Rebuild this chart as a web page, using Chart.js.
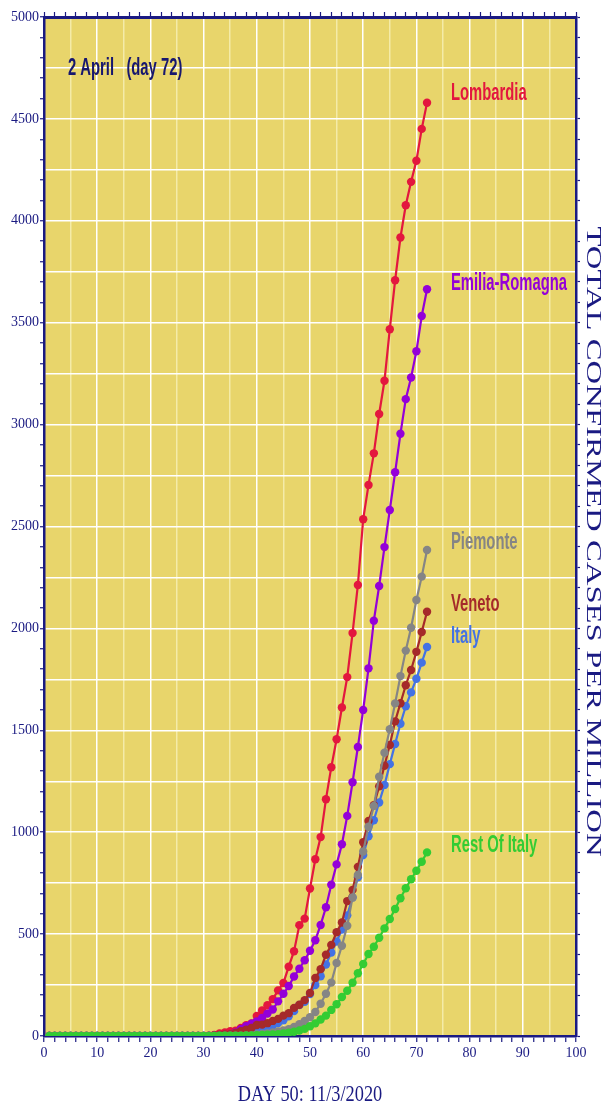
<!DOCTYPE html>
<html>
<head>
<meta charset="utf-8">
<title>Total confirmed cases per million</title>
<script src="https://cdn.jsdelivr.net/npm/chart.js@4.4.1/dist/chart.umd.min.js"></script>
<style>
  html, body { margin: 0; padding: 0; background: #ffffff; }
  #wrap { width: 605px; height: 1108px; position: relative; }
</style>
</head>
<body>
<div id="wrap"><canvas id="chart"></canvas></div>
<script>
const days = [
  1, 2, 3, 4, 5, 6, 7, 8, 9, 10,
  11, 12, 13, 14, 15, 16, 17, 18, 19, 20,
  21, 22, 23, 24, 25, 26, 27, 28, 29, 30,
  31, 32, 33, 34, 35, 36, 37, 38, 39, 40,
  41, 42, 43, 44, 45, 46, 47, 48, 49, 50,
  51, 52, 53, 54, 55, 56, 57, 58, 59, 60,
  61, 62, 63, 64, 65, 66, 67, 68, 69, 70,
  71, 72
];

const lombardia = [
  0, 0, 0, 0, 0, 0, 0, 0, 0, 0,
  0, 0, 0, 0, 0, 0, 0, 0, 0, 0,
  0, 0, 0, 0, 0, 0, 0, 0, 0, 0,
  1, 5, 13, 17, 24, 26, 40, 53, 61, 98,
  125, 151, 181, 224, 260, 340, 416, 544, 576, 724,
  867, 976, 1162, 1319, 1456, 1612, 1761, 1977, 2213, 2536,
  2704, 2859, 3052, 3215, 3468, 3708, 3918, 4076, 4191, 4295,
  4451, 4579
];

const emiliaRomagna = [
  0, 0, 0, 0, 0, 0, 0, 0, 0, 0,
  0, 0, 0, 0, 0, 0, 0, 0, 0, 0,
  0, 0, 0, 0, 0, 0, 0, 0, 0, 0,
  0, 0, 3, 5, 8, 18, 33, 48, 60, 72,
  88, 110, 130, 170, 207, 245, 292, 330, 372, 418,
  470, 545, 632, 742, 842, 941, 1080, 1245, 1418, 1600,
  1804, 2038, 2208, 2399, 2581, 2766, 2955, 3125, 3231, 3360,
  3533, 3664
];

const piemonte = [
  0, 0, 0, 0, 0, 0, 0, 0, 0, 0,
  0, 0, 0, 0, 0, 0, 0, 0, 0, 0,
  0, 0, 0, 0, 0, 0, 0, 0, 0, 0,
  0, 0, 0, 1, 1, 1, 1, 3, 3, 8,
  10, 13, 18, 22, 27, 33, 44, 58, 74, 92,
  118, 158, 207, 262, 358, 443, 541, 680, 790, 905,
  1027, 1129, 1272, 1390, 1505, 1632, 1766, 1891, 2003, 2139,
  2254, 2385
];

const veneto = [
  0, 0, 0, 0, 0, 0, 0, 0, 0, 0,
  0, 0, 0, 0, 0, 0, 0, 0, 0, 0,
  0, 0, 0, 0, 0, 0, 0, 0, 0, 0,
  0, 3, 5, 7, 9, 15, 23, 31, 39, 54,
  56, 63, 74, 84, 100, 112, 138, 153, 176, 211,
  285, 328, 399, 447, 509, 557, 662, 717, 830, 951,
  1055, 1133, 1225, 1326, 1428, 1544, 1633, 1721, 1796, 1885,
  1982, 2082
];

const italy = [
  0, 0, 0, 0, 0, 0, 0, 0, 0, 0.05,
  0.05, 0.05, 0.05, 0.05, 0.05, 0.05, 0.05, 0.05, 0.05, 0.05,
  0.05, 0.05, 0.05, 0.05, 0.05, 0.05, 0.05, 0.05, 0.05, 0.05,
  0.3, 1.3, 2.5, 3.8, 5.3, 6.6, 10.8, 14.7, 18.7, 28,
  34, 41, 51, 64, 77, 97, 122, 152, 168, 206,
  250, 293, 351, 410, 464, 522, 592, 680, 779, 888,
  980, 1059, 1146, 1232, 1334, 1433, 1532, 1618, 1686, 1753,
  1832, 1909
];

const restOfItaly = [
  0, 0, 0, 0, 0, 0, 0, 0, 0, 0.1,
  0.1, 0.1, 0.1, 0.1, 0.1, 0.1, 0.1, 0.1, 0.1, 0.1,
  0.1, 0.1, 0.1, 0.1, 0.1, 0.1, 0.1, 0.1, 0.1, 0.1,
  0.1, 0.5, 1, 1, 1, 2, 2, 3, 3, 4,
  5, 6, 7, 9, 12, 16, 21, 27, 35, 48,
  62, 81, 100, 128, 156, 191, 222, 261, 308, 353,
  402, 438, 482, 528, 574, 623, 676, 725, 769, 811,
  855, 901
];

const seriesNames = ['Lombardia', 'Emilia-Romagna', 'Piemonte', 'Veneto', 'Italy', 'Rest Of Italy'];
const seriesValues = [lombardia, emiliaRomagna, piemonte, veneto, italy, restOfItaly];
const seriesColors = ['#e3173e', '#9400d8', '#858585', '#a52a2a', '#4372e4', '#33cc33'];
const drawOrder = [5, 4, 1, 2, 3, 0];

// where the name of each series sits (day, cases per million)
const labelDay = 76.5;
const labelValues = [4625, 3695, 2420, 2120, 1963, 937];

const xTickLabels = [0, 10, 20, 30, 40, 50, 60, 70, 80, 90, 100];
const yTickLabels = [0, 500, 1000, 1500, 2000, 2500, 3000, 3500, 4000, 4500, 5000];

const titleText = '2 April   (day 72)';
const bottomText = 'DAY 50: 11/3/2020';
const sideText = 'TOTAL CONFIRMED CASES PER MILLION';

const NAVY = '#1a1a82';
const PLOT_BG = '#e8d56b';
const CLEAR = 'rgba(0,0,0,0)';
const tickFont = { family: "'Liberation Serif', 'Times New Roman', serif", size: 14 };

function makeDataset(i) {
  return {
    label: seriesNames[i],
    data: days.map((d, k) => ({ x: d, y: seriesValues[i][k] })),
    borderColor: seriesColors[i],
    backgroundColor: seriesColors[i],
    pointBackgroundColor: seriesColors[i],
    pointBorderWidth: 0,
    pointRadius: 4.2,
    borderWidth: 2.2,
    tension: 0,
    clip: 0,
    order: drawOrder[i]
  };
}

function stretchedText(ctx, text, x, y, font, color, sx, sy, align) {
  ctx.save();
  ctx.translate(x, y);
  ctx.scale(sx, sy);
  ctx.font = font;
  ctx.fillStyle = color;
  ctx.textAlign = align;
  ctx.textBaseline = 'middle';
  ctx.fillText(text, 0, 0);
  ctx.restore();
}

const decorations = {
  id: 'decorations',
  beforeDraw(chart) {
    const { ctx, chartArea: a } = chart;
    ctx.save();
    ctx.fillStyle = '#ffffff';
    ctx.fillRect(0, 0, chart.width, chart.height);
    ctx.fillStyle = PLOT_BG;
    ctx.fillRect(a.left, a.top, a.right - a.left, a.bottom - a.top);
    ctx.restore();
  },
  afterDraw(chart) {
    const { ctx, chartArea: a } = chart;
    const xs = chart.scales.x;
    const ys = chart.scales.y;
    const sans = "bold 20px 'Liberation Sans', Arial, sans-serif";

    stretchedText(ctx, titleText, a.left + 24, a.top + 51, sans, '#17176e', 0.74, 1.2, 'left');

    seriesNames.forEach((name, i) => {
      stretchedText(ctx, name, xs.getPixelForValue(labelDay), ys.getPixelForValue(labelValues[i]),
        sans, seriesColors[i], 0.74, 1.2, 'left');
    });

    stretchedText(ctx, bottomText, (a.left + a.right) / 2, 1095,
      "18px 'Liberation Serif', 'Times New Roman', serif", NAVY, 1.02, 1.25, 'center');

    ctx.save();
    ctx.translate(chart.width - 12, (a.top + a.bottom) / 2 + 15);
    ctx.rotate(Math.PI / 2);
    ctx.scale(1.56, 1);
    ctx.font = "21px 'Liberation Serif', 'Times New Roman', serif";
    ctx.fillStyle = NAVY;
    ctx.textAlign = 'center';
    ctx.textBaseline = 'middle';
    ctx.fillText(sideText, 0, 0);
    ctx.restore();
  }
};

const ctx = document.getElementById('chart').getContext('2d');
const myChart = new Chart(ctx, {
  type: 'line',
  data: { datasets: seriesNames.map((n, i) => makeDataset(i)) },
  options: {
    responsive: true,
    maintainAspectRatio: false,
    devicePixelRatio: 1,
    animation: false,
    layout: { padding: 0, autoPadding: false },
    plugins: { legend: { display: false }, tooltip: { enabled: false } },
    scales: {
      x: {
        type: 'linear',
        position: 'bottom',
        min: 0,
        max: 100,
        afterFit: s => { s.height = 72; },
        border: { color: NAVY, width: 2.5 },
        grid: {
          color: c => c.tick.value % 10 === 0 ? '#ffffff' : (c.tick.value % 5 === 0 ? '#f4eba8' : CLEAR),
          lineWidth: 1.5,
          tickColor: c => c.tick.value % 2 === 0 ? NAVY : CLEAR,
          tickLength: 6,
          tickWidth: 1.2
        },
        ticks: {
          stepSize: 1,
          autoSkip: false,
          maxRotation: 0,
          padding: 3,
          color: NAVY,
          font: tickFont,
          callback: v => xTickLabels.includes(v) ? String(v) : ''
        }
      },
      y: {
        type: 'linear',
        position: 'left',
        min: 0,
        max: 5000,
        afterFit: s => { s.width = 44; },
        border: { color: NAVY, width: 2.5 },
        grid: {
          color: c => c.tick.value % 250 === 0 ? '#ffffff' : CLEAR,
          lineWidth: 1.5,
          tickColor: c => c.tick.value % 100 === 0 ? NAVY : CLEAR,
          tickLength: 4,
          tickWidth: 1.2
        },
        ticks: {
          stepSize: 50,
          autoSkip: false,
          padding: 1,
          color: NAVY,
          font: tickFont,
          callback: v => yTickLabels.includes(v) ? String(v) : ''
        }
      },
      xTop: {
        type: 'linear',
        position: 'top',
        min: 0,
        max: 100,
        afterFit: s => { s.height = 17; },
        border: { color: NAVY, width: 3 },
        grid: {
          drawOnChartArea: false,
          tickColor: c => c.tick.value % 2 === 0 ? NAVY : CLEAR,
          tickLength: 5,
          tickWidth: 1.2
        },
        ticks: { stepSize: 1, autoSkip: false, display: false }
      },
      yRight: {
        type: 'linear',
        position: 'right',
        min: 0,
        max: 5000,
        afterFit: s => { s.width = 29; },
        border: { color: NAVY, width: 2.5 },
        grid: {
          drawOnChartArea: false,
          tickColor: c => c.tick.value % 100 === 0 ? NAVY : CLEAR,
          tickLength: 4,
          tickWidth: 1.2
        },
        ticks: { stepSize: 50, autoSkip: false, display: false }
      }
    }
  },
  plugins: [decorations]
});
</script>
</body>
</html>
